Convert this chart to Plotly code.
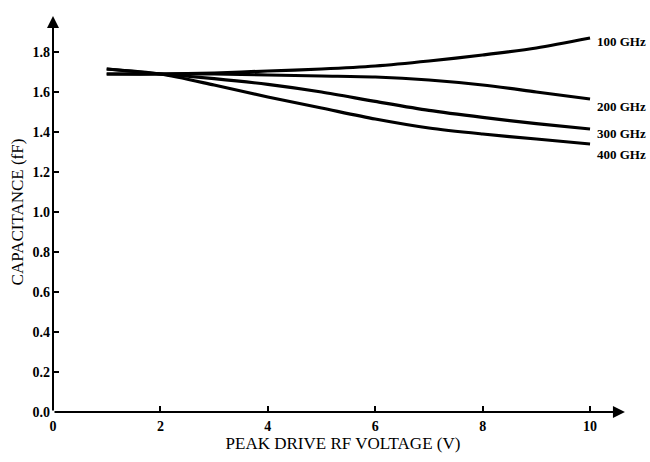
import plotly.graph_objects as go

voltage = [1, 2, 3, 4, 5, 6, 7, 8, 9, 10]
cap_100 = [1.69, 1.69, 1.695, 1.705, 1.715, 1.73, 1.755, 1.785, 1.82, 1.87]
cap_200 = [1.69, 1.69, 1.69, 1.685, 1.68, 1.675, 1.66, 1.635, 1.60, 1.565]
cap_300 = [1.715, 1.69, 1.667, 1.638, 1.60, 1.553, 1.508, 1.473, 1.442, 1.415]
cap_400 = [1.715, 1.69, 1.635, 1.575, 1.52, 1.465, 1.42, 1.39, 1.365, 1.34]
series_names = ["100 GHz", "200 GHz", "300 GHz", "400 GHz"]
label_y = [1.855, 1.53, 1.394, 1.29]
x_ticks = [0, 2, 4, 6, 8, 10]
y_ticks = [0.0, 0.2, 0.4, 0.6, 0.8, 1.0, 1.2, 1.4, 1.6, 1.8]

serif = "Liberation Serif"
fig = go.Figure()
for name, ys in zip(series_names, [cap_100, cap_200, cap_300, cap_400]):
    fig.add_trace(go.Scatter(x=voltage, y=ys, mode="lines", name=name,
                             line=dict(color="black", width=3.2, shape="spline", smoothing=0.8)))

for name, ly in zip(series_names, label_y):
    fig.add_annotation(x=10.1, y=ly, text=name, showarrow=False, xanchor="left",
                       font=dict(family=serif, size=13, color="black", weight="bold"))

# axis arrows
fig.add_annotation(x=10.65, y=0, ax=0, ay=0, xref="x", yref="y", axref="x", ayref="y",
                   showarrow=True, arrowhead=2, arrowsize=1.2, arrowwidth=2, arrowcolor="black", text="")
fig.add_annotation(x=0, y=1.98, ax=0, ay=0, xref="x", yref="y", axref="x", ayref="y",
                   showarrow=True, arrowhead=2, arrowsize=1.2, arrowwidth=2, arrowcolor="black", text="")

fig.update_layout(
    width=650, height=462,
    margin=dict(l=53, r=17, t=12, b=50),
    paper_bgcolor="white", plot_bgcolor="white",
    showlegend=False,
    font=dict(family=serif, color="black"),
)
fig.update_xaxes(range=[0, 10.8], tickvals=x_ticks, ticks="inside", ticklen=6, tickwidth=1.5,
                 tickcolor="black", showgrid=False, zeroline=False, showline=False,
                 ticklabelstandoff=4,
                 tickfont=dict(family=serif, size=14, color="black", weight="bold"),
                 title=dict(text="PEAK DRIVE RF VOLTAGE (V)",
                            font=dict(family=serif, size=17, color="black"), standoff=4))
fig.update_yaxes(range=[0, 2.0], tickvals=y_ticks, tickformat=".1f", ticks="inside", ticklen=6,
                 tickwidth=1.5, tickcolor="black", showgrid=False, zeroline=False, showline=False,
                 ticklabelstandoff=2,
                 tickfont=dict(family=serif, size=14, color="black", weight="bold"),
                 title=dict(text="CAPACITANCE (fF)",
                            font=dict(family=serif, size=17, color="black"), standoff=4))

fig.write_html("out.html")
